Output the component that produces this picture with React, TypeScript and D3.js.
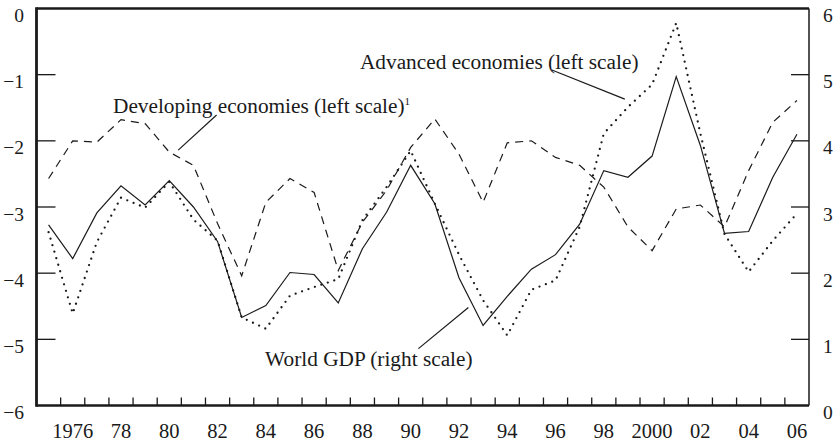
import React from "react";
import * as d3 from "d3";

const years = [1975,1976,1977,1978,1979,1980,1981,1982,1983,1984,1985,1986,1987,1988,1989,1990,1991,1992,1993,1994,1995,1996,1997,1998,1999,2000,2001,2002,2003,2004,2005,2006];

// World GDP growth (right scale)
const worldGDP = [2.73,2.22,2.91,3.32,3.03,3.40,3.00,2.48,1.33,1.51,2.01,1.98,1.55,2.37,2.92,3.63,3.05,1.93,1.21,1.65,2.06,2.28,2.74,3.55,3.45,3.77,4.97,3.93,2.60,2.63,3.45,4.10];
// Advanced economies (left scale)
const advanced = [-3.38,-4.61,-3.53,-2.86,-3.01,-2.62,-3.19,-3.51,-4.67,-4.84,-4.34,-4.21,-4.09,-3.20,-2.70,-2.15,-2.95,-3.72,-4.41,-4.94,-4.25,-4.11,-3.30,-1.89,-1.49,-1.15,-0.22,-1.89,-3.41,-3.98,-3.51,-3.10];
// Developing economies (left scale)
const developing = [-2.57,-2.00,-2.02,-1.68,-1.74,-2.17,-2.37,-3.25,-4.04,-2.93,-2.57,-2.78,-3.96,-3.23,-2.75,-2.10,-1.67,-2.20,-2.93,-2.03,-2.00,-2.25,-2.37,-2.70,-3.30,-3.66,-3.03,-2.97,-3.30,-2.45,-1.72,-1.39];

const xTickYears = [1976,1978,1980,1982,1984,1986,1988,1990,1992,1994,1996,1998,2000,2002,2004,2006];
const xTickLabels = ["1976","78","80","82","84","86","88","90","92","94","96","98","2000","02","04","06"];
const leftTicks = [0,-1,-2,-3,-4,-5,-6];
const leftTickLabels = ["0","\u22121","\u22122","\u22123","\u22124","\u22125","\u22126"];
const rightTicks = [6,5,4,3,2,1,0];
const rightTickLabels = ["6","5","4","3","2","1","0"];

const W = 837, H = 442;
const L = 36.5, R = 809, T = 8.5, B = 405.5;
const FONT = "'Liberation Serif', 'DejaVu Serif', serif";
const INK = "#1a1a1a";
const ANN = 21.3;

export default function App() {
  const x = d3.scaleBand<number>().domain(years).range([L, R]).padding(0);
  const bw = x.bandwidth();
  const cx = (yr: number) => (x(yr) as number) + bw / 2;
  const xYear = d3.scaleLinear().domain([1975, 2007]).range([L, R]);
  const yL = d3.scaleLinear().domain([-6, 0]).range([B, T]);
  const yR = d3.scaleLinear().domain([0, 6]).range([B, T]);

  const lineL = d3.line<number>().x((_, i) => cx(years[i])).y(v => yL(v));
  const lineR = d3.line<number>().x((_, i) => cx(years[i])).y(v => yR(v));

  return (
    <svg width={W} height={H} style={{ position: "absolute", left: 0, top: 0, background: "#fff" }}>
      <rect x={0} y={0} width={W} height={H} fill="#fff" />
      {/* data lines */}
      <path d={lineL(developing) || ""} fill="none" stroke={INK} strokeWidth={1.2} strokeDasharray="8,6" />
      <path d={lineL(advanced) || ""} fill="none" stroke={INK} strokeWidth={2.3} strokeDasharray="0,6.8" strokeLinecap="round" />
      <path d={lineR(worldGDP) || ""} fill="none" stroke={INK} strokeWidth={1.2} />

      {/* frame */}
      <line x1={L} x2={R} y1={T} y2={T} stroke={INK} strokeWidth={2.5} />
      <line x1={L} x2={L} y1={T - 1.2} y2={B + 1.2} stroke={INK} strokeWidth={2.8} />
      <line x1={L} x2={R} y1={B} y2={B} stroke={INK} strokeWidth={2.5} />
      <line x1={R} x2={R} y1={T} y2={B} stroke={INK} strokeWidth={1.5} />

      {/* left ticks */}
      {leftTicks.map((v, i) => (
        <g key={"l" + i}>
          {v !== 0 && v !== -6 && <line x1={L} x2={L + 19} y1={yL(v)} y2={yL(v)} stroke={INK} strokeWidth={1.3} />}
          <text x={24} y={yL(v) + 13.5} textAnchor="end" fontFamily={FONT} fontSize={19.5} fill={INK}>{leftTickLabels[i]}</text>
        </g>
      ))}
      {/* right ticks */}
      {rightTicks.map((v, i) => (
        <g key={"r" + i}>
          {v !== 0 && v !== 6 && <line x1={R - 18} x2={R} y1={yR(v)} y2={yR(v)} stroke={INK} strokeWidth={1.3} />}
          <text x={823} y={yR(v) + 13.5} textAnchor="start" fontFamily={FONT} fontSize={19.5} fill={INK}>{rightTickLabels[i]}</text>
        </g>
      ))}
      {/* bottom ticks at band boundaries */}
      {years.slice(1).map(yr => (
        <line key={"b" + yr} x1={x(yr) as number} x2={x(yr) as number} y1={B} y2={B - 8} stroke={INK} strokeWidth={1.3} />
      ))}
      {xTickYears.map((yr, i) => (
        <text key={"xl" + yr} x={cx(yr)} y={438} textAnchor="middle" fontFamily={FONT} fontSize={20.5} fill={INK}>{xTickLabels[i]}</text>
      ))}

      {/* annotations */}
      <text x={xYear(1978.17)} y={yL(-1.58)} fontFamily={FONT} fontSize={ANN} fill={INK}>
        Developing economies (left scale)<tspan fontSize={11} dy={-8}>1</tspan>
      </text>
      <line x1={xYear(1980.87)} y1={yL(-2.14)} x2={xYear(1982.46)} y2={yL(-1.61)} stroke={INK} strokeWidth={1.2} />

      <text x={xYear(1988.4)} y={yL(-0.91)} fontFamily={FONT} fontSize={ANN} fill={INK}>Advanced economies (left scale)</text>
      <line x1={xYear(1996.35)} y1={yL(-0.93)} x2={xYear(1999.37)} y2={yL(-1.37)} stroke={INK} strokeWidth={1.2} />

      <text x={xYear(1984.47)} y={yR(0.59)} fontFamily={FONT} fontSize={ANN} fill={INK}>World GDP (right scale)</text>
      <line x1={xYear(1990.82)} y1={yR(0.86)} x2={xYear(1992.89)} y2={yR(1.48)} stroke={INK} strokeWidth={1.2} />
    </svg>
  );
}
